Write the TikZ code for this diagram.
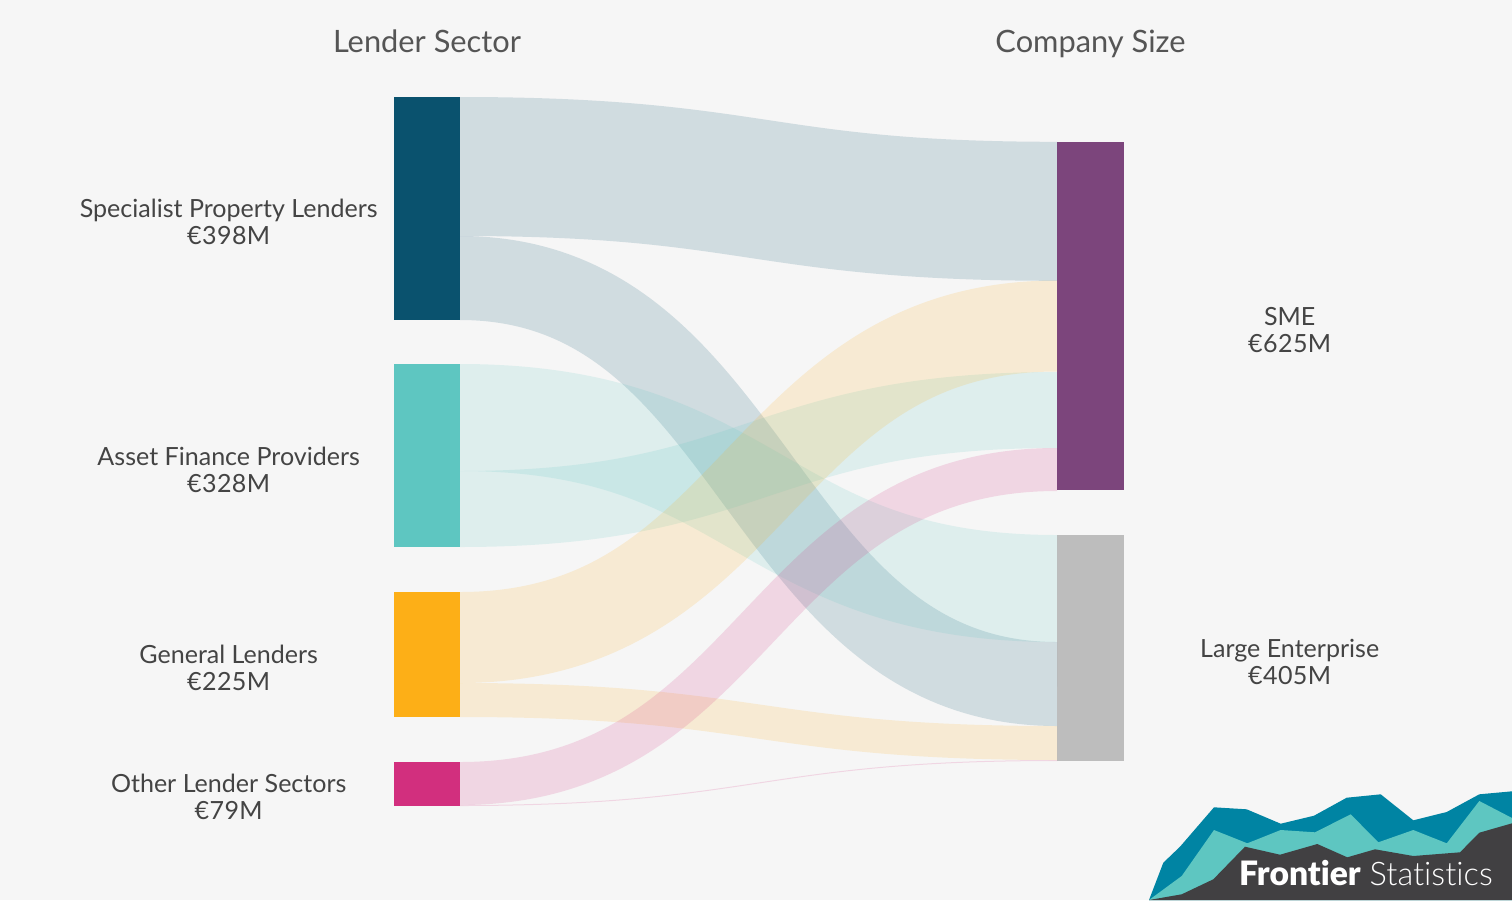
\documentclass[tikz,border=0pt]{standalone}
\usepackage{fontspec}
\setmainfont{Lato}[Ligatures=NoCommon]
\newfontfamily\logolight{Lato Light}[Ligatures=NoCommon]
\newfontfamily\logoheavy{Lato Black}[Ligatures=NoCommon]
\newfontfamily\valfont{Lato}[Ligatures=NoCommon,LetterSpace=1.6]
\usetikzlibrary{calc}
\definecolor{bgc}{HTML}{F6F6F6}
\definecolor{cspec}{HTML}{0A526E}
\definecolor{casset}{HTML}{5EC6C1}
\definecolor{cgen}{HTML}{FDAF17}
\definecolor{cother}{HTML}{D22F7E}
\definecolor{csme}{HTML}{7C457C}
\definecolor{clarge}{HTML}{BDBDBD}
\definecolor{ctext}{HTML}{444444}
\definecolor{ctitle}{HTML}{555555}
\definecolor{lblue}{HTML}{0084A3}
\definecolor{lteal}{HTML}{5EC6C1}
\definecolor{ldark}{HTML}{414042}
\tikzset{
  bar/.style={draw=none,inner sep=0pt,outer sep=0pt,anchor=north west},
  lbar/.style={bar,minimum width=66pt},
  rbar/.style={bar,minimum width=67pt},
  lab/.style={text=ctext,align=center,font=\fontsize{25.05}{27}\selectfont,inner sep=0pt},
  ttl/.style={text=ctitle,font=\fontsize{30.8}{33}\selectfont,inner sep=0pt,anchor=base},
  logotext/.style={text=white,inner sep=0pt,anchor=base west,font=\fontsize{32.5}{34}\selectfont},
  logoheavytext/.style={text=white,inner sep=0pt,anchor=base west,font=\fontsize{33.6}{35}\selectfont}
}
% \band{src}{dst}{offset in src}{offset in dst}{width}{colour}
\newcommand{\band}[6]{%
  \coordinate (ba) at ($(#1.north east)+(0,#3)$);
  \coordinate (bb) at ($(#2.north west)+(0,#4)$);
  \draw[#6,opacity=0.155,line width=#5pt]
    let \p1=(ba),\p2=(bb) in
    (ba) .. controls ({0.5*\x1+0.5*\x2},\y1) and ({0.5*\x1+0.5*\x2},\y2) .. (bb);
}
\begin{document}
\begin{tikzpicture}[x=1pt,y=-1pt]
\useasboundingbox (0,0) rectangle (1512,900);
\fill[bgc] (0,0) rectangle (1512,900);
% nodes
\node[lbar,fill=cspec,minimum height=223pt] (spec) at (394,97) {};
\node[lbar,fill=casset,minimum height=183pt] (asset) at (394,364) {};
\node[lbar,fill=cgen,minimum height=125pt] (gen) at (394,592) {};
\node[lbar,fill=cother,minimum height=44pt] (other) at (394,762) {};
\node[rbar,fill=csme,minimum height=348pt] (sme) at (1057,142) {};
\node[rbar,fill=clarge,minimum height=226pt] (large) at (1057,535) {};
% bands
\band{spec}{sme}{69.5}{69.3}{139}{cspec}
\band{spec}{large}{181}{149}{84}{cspec}
\band{asset}{large}{53.5}{53.5}{107}{casset}
\band{asset}{sme}{145}{268}{76}{casset}
\band{gen}{sme}{45.5}{184}{91}{cgen}
\band{gen}{large}{108}{208}{34}{cgen}
\band{other}{sme}{21.5}{327.5}{43}{cother}
\band{other}{large}{43.5}{225.5}{1}{cother}
% labels
\node[ttl] (t1) at (427,52.5) {Lender Sector};
\node[ttl] (t2) at (1090.5,52.5) {Company Size};
\node[lab] (l1) at (228.7,221.5) {Specialist Property Lenders\\{\valfont €398M}};
\node[lab] (l2) at (228.7,469.5) {Asset Finance Providers\\{\valfont €328M}};
\node[lab] (l3) at (228.7,667.5) {General Lenders\\{\valfont €225M}};
\node[lab] (l4) at (228.7,796.5) {Other Lender Sectors\\{\valfont €79M}};
\node[lab] (l5) at (1289.7,330) {SME\\{\valfont €625M}};
\node[lab] (l6) at (1289.7,661.5) {Large Enterprise\\{\valfont €405M}};
% logo
\fill[lblue] (1149,900)--(1163.3,862.7)--(1180,846.7)--(1214,807.3)--(1246.7,809.3)--(1280.7,823.7)--(1314,815.7)--(1346.7,797.7)--(1380.7,794.3)--(1413.3,820.3)--(1446.7,812)--(1479.3,794.3)--(1512,791.3)--(1512,900)--cycle;
\fill[lteal] (1149,900)--(1181.7,876)--(1214,830)--(1247.3,843.3)--(1280.7,830)--(1315,832.3)--(1350.7,814.3)--(1378.3,842.3)--(1413.3,830)--(1446.7,843.3)--(1479.3,801)--(1512,818)--(1512,900)--cycle;
\fill[ldark] (1149,900)--(1181.7,894.3)--(1213.3,879.3)--(1245,846.7)--(1280,854.7)--(1317.3,844)--(1347.3,857.3)--(1375,849.3)--(1413.3,856)--(1460,852.3)--(1479.3,832.7)--(1512,823.3)--(1512,900)--cycle;
\node[logoheavytext] (logoa) at (1239,885) {\logoheavy Frontier};
\node[logotext] (logob) at (1369.5,885) {\logolight Statistics};
\end{tikzpicture}
\end{document}
